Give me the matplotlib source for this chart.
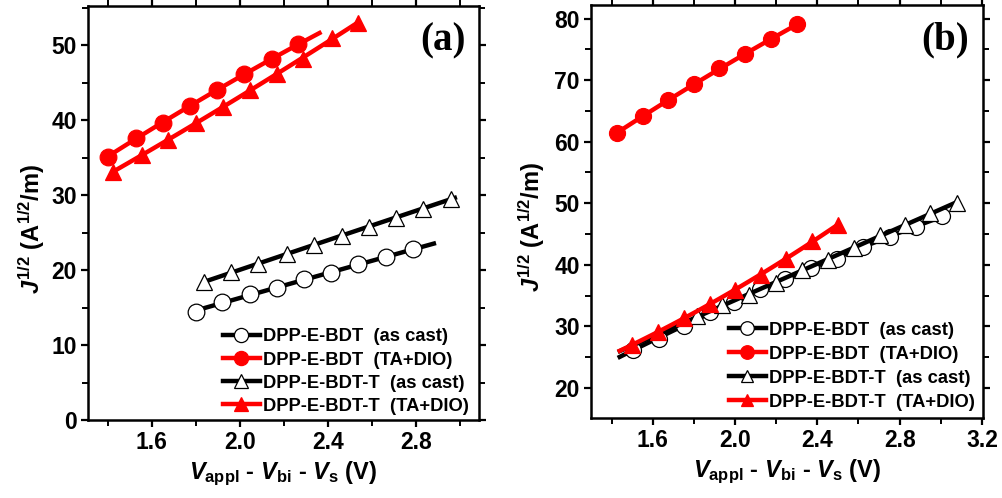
import numpy as np
import matplotlib
matplotlib.use("Agg")
import matplotlib.pyplot as plt
from matplotlib.lines import Line2D
from matplotlib.ticker import MultipleLocator

plt.rcParams['font.family'] = ['Liberation Sans', 'DejaVu Sans']
plt.rcParams['font.weight'] = 'bold'
plt.rcParams['mathtext.fontset'] = 'custom'
plt.rcParams['mathtext.rm'] = 'Liberation Sans:bold'
plt.rcParams['mathtext.it'] = 'Liberation Sans:bold:italic'
plt.rcParams['mathtext.bf'] = 'Liberation Sans:bold'

labels = ["DPP-E-BDT  (as cast)", "DPP-E-BDT  (TA+DIO)",
          "DPP-E-BDT-T  (as cast)", "DPP-E-BDT-T  (TA+DIO)"]

# Panel (a)
a_bdt_cast_x = [1.80, 1.92, 2.045, 2.167, 2.29, 2.414, 2.538, 2.662, 2.785]
a_bdt_cast_y = [14.45, 15.8, 16.75, 17.55, 18.75, 19.55, 20.75, 21.8, 22.75]
a_bdt_ta_x = [1.40, 1.527, 1.65, 1.773, 1.895, 2.018, 2.145, 2.264]
a_bdt_ta_y = [35.1, 37.6, 39.6, 41.9, 44.0, 46.1, 48.1, 50.1]
a_bdtt_cast_x = [1.836, 1.959, 2.083, 2.212, 2.336, 2.462, 2.586, 2.709, 2.833, 2.959]
a_bdtt_cast_y = [18.36, 19.69, 20.84, 22.2, 23.3, 24.6, 25.8, 27.0, 28.2, 29.5]
a_bdtt_ta_x = [1.423, 1.553, 1.673, 1.80, 1.923, 2.045, 2.167, 2.287, 2.417, 2.536]
a_bdtt_ta_y = [33.1, 35.3, 37.3, 39.6, 41.8, 44.0, 46.1, 48.2, 50.9, 53.0]
a_fit_ranges = [(1.78, 2.89), (1.40, 2.37), (1.836, 2.985), (1.423, 2.54)]

# Panel (b)
b_bdt_cast_x = [1.503, 1.632, 1.752, 1.879, 1.997, 2.122, 2.244, 2.37, 2.495, 2.622, 2.755, 2.881, 3.006]
b_bdt_cast_y = [26.2, 28.0, 30.0, 32.3, 33.9, 36.0, 37.7, 39.5, 40.9, 42.9, 44.5, 46.2, 48.0]
b_bdt_ta_x = [1.425, 1.551, 1.676, 1.801, 1.924, 2.049, 2.176, 2.301]
b_bdt_ta_y = [61.4, 64.1, 66.8, 69.3, 71.9, 74.2, 76.6, 79.1]
b_bdtt_cast_x = [1.814, 1.936, 2.07, 2.199, 2.325, 2.45, 2.576, 2.703, 2.828, 2.949, 3.079]
b_bdtt_cast_y = [31.6, 33.4, 35.1, 37.0, 39.2, 40.8, 42.7, 44.9, 46.5, 48.4, 50.0]
b_bdtt_ta_x = [1.50, 1.625, 1.75, 1.877, 1.998, 2.125, 2.25, 2.374, 2.50]
b_bdtt_ta_y = [27.0, 29.0, 31.4, 33.6, 35.9, 38.4, 41.0, 43.8, 46.5]
b_fit_ranges = [(1.43, 3.03), (1.425, 2.301), (1.43, 3.079), (1.43, 2.50)]

colors = ['black', 'red', 'black', 'red']
markers = ['o', 'o', '^', '^']
faces = ['white', 'red', 'white', 'red']

fig = plt.figure(figsize=(10.02, 4.98), dpi=100)
ax_a = fig.add_axes([0.0878, 0.1566, 0.3902, 0.8313])
ax_b = fig.add_axes([0.5898, 0.1606, 0.3912, 0.8293])


def draw(ax, series, fits, ms_c, ms_t, order):
    for i in order:
        x, y = series[i]
        x = np.asarray(x); y = np.asarray(y)
        lo, hi = fits[i]
        coef = np.polyfit(x, y, 2)
        xx = np.linspace(lo, hi, 100)
        z = 3 + i * 0.1 + (1 if colors[i] == 'red' else 0)
        ax.plot(xx, np.polyval(coef, xx), color=colors[i], lw=3.2, zorder=z,
                solid_capstyle='butt')
        ms = ms_c if markers[i] == 'o' else ms_t
        ax.plot(x, y, ls='none', marker=markers[i], ms=ms, mfc=faces[i],
                mec=colors[i], mew=0.9, zorder=z + 0.05)
    handles = [Line2D([], [], color=colors[i], lw=3.2, marker=markers[i],
                      ms=(ms_c if markers[i] == 'o' else ms_t) * 0.85,
                      mfc=faces[i], mec=colors[i], mew=0.9) for i in range(4)]
    return handles


def style(ax, xlim, ylim, xmaj, ymaj, panel, ylab_x):
    ax.set_xlim(*xlim)
    ax.set_ylim(*ylim)
    ax.xaxis.set_major_locator(MultipleLocator(0.4))
    ax.xaxis.set_minor_locator(MultipleLocator(0.2))
    ax.yaxis.set_major_locator(MultipleLocator(10))
    ax.yaxis.set_minor_locator(MultipleLocator(5))
    ax.set_xticks(xmaj)
    ax.set_yticks(ymaj)
    for s in ax.spines.values():
        s.set_linewidth(1.8)
    ax.tick_params(which='major', direction='out', length=5, width=1.6,
                   labelsize=16.5, pad=3)
    ax.tick_params(which='minor', direction='out', length=4, width=1.4)
    ax.tick_params(which='both', top=True, right=True)
    for lab in ax.get_xticklabels() + ax.get_yticklabels():
        lab.set_fontweight('bold')
    ax.set_xlabel(r'$V_{\mathrm{appl}}$ - $V_{\mathrm{bi}}$ - $V_{\mathrm{s}}$ (V)',
                  fontsize=17, fontweight='bold', labelpad=4)
    ax.set_ylabel(r'$J^{1/2}$ (A$^{1/2}$/m)', fontsize=17, fontweight='bold')
    ax.yaxis.set_label_coords(ylab_x, 0.462)
    ax.text(0.965, 0.915, panel, transform=ax.transAxes, ha='right', va='center',
            fontsize=28, fontweight='bold', family='Liberation Serif')


series_a = [(a_bdt_cast_x, a_bdt_cast_y), (a_bdt_ta_x, a_bdt_ta_y),
            (a_bdtt_cast_x, a_bdtt_cast_y), (a_bdtt_ta_x, a_bdtt_ta_y)]
series_b = [(b_bdt_cast_x, b_bdt_cast_y), (b_bdt_ta_x, b_bdt_ta_y),
            (b_bdtt_cast_x, b_bdtt_cast_y), (b_bdtt_ta_x, b_bdtt_ta_y)]

h_a = draw(ax_a, series_a, a_fit_ranges, 12, 12, [0, 2, 3, 1])
h_b = draw(ax_b, series_b, b_fit_ranges, 11.5, 11, [0, 2, 1, 3])

style(ax_a, (1.31, 3.085), (0, 55.2), [1.6, 2.0, 2.4, 2.8], [0, 10, 20, 30, 40, 50], '(a)', -0.106)
style(ax_b, (1.30, 3.205), (15.1, 82.2), [1.6, 2.0, 2.4, 2.8, 3.2], [20, 30, 40, 50, 60, 70, 80], '(b)', -0.112)

for ax, h, anchor, ls in [(ax_a, h_a, (0.345, 0.013), 0.33), (ax_b, h_b, (0.352, 0.018), 0.38)]:
    ax.legend(h, labels, loc='lower left', bbox_to_anchor=anchor, frameon=False,
              handlelength=2.0, handletextpad=0.2, labelspacing=ls,
              borderpad=0, borderaxespad=0, prop={'weight': 'bold', 'size': 13.2})

fig.savefig('out.png', dpi=100)
